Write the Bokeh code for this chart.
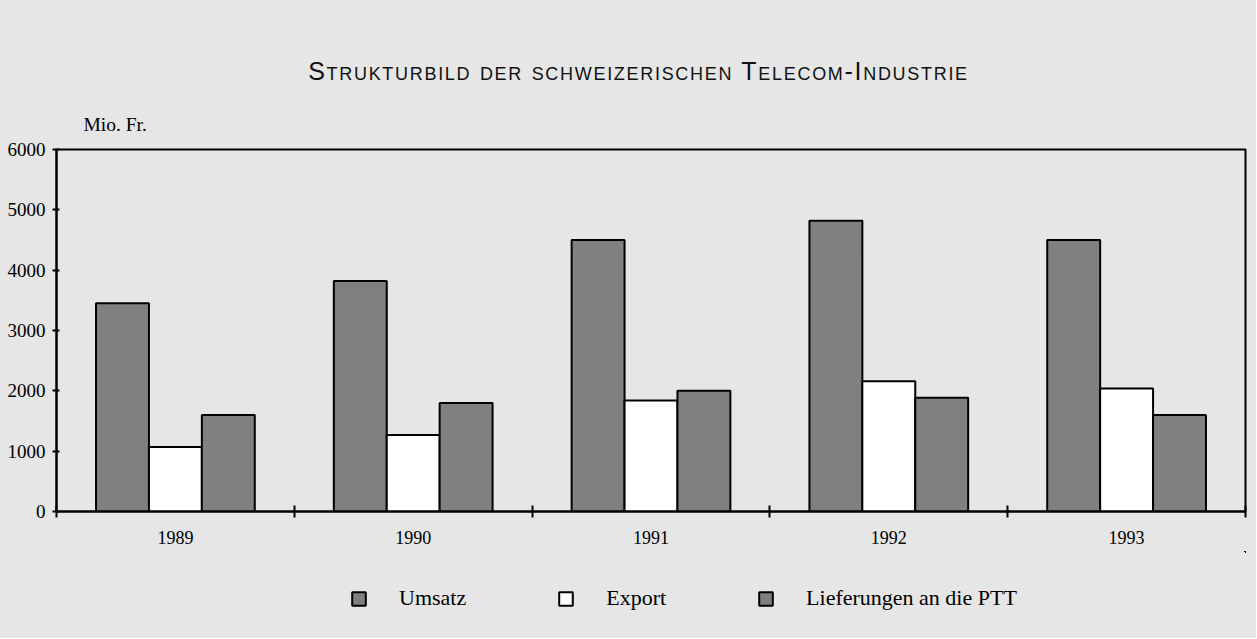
from bokeh.plotting import figure
from bokeh.models import ColumnDataSource, FixedTicker, Legend, LegendItem, Div, Range1d, Title
from bokeh.layouts import column
from bokeh.embed import file_html
from bokeh.resources import INLINE

# ---- data ----
years = ["1989", "1990", "1991", "1992", "1993"]
umsatz = [3450, 3820, 4500, 4820, 4500]
export = [1070, 1270, 1840, 2160, 2040]
lieferungen_ptt = [1600, 1800, 2000, 1885, 1600]
series_names = ["Umsatz", "Export", "Lieferungen an die PTT"]
y_ticks = [0, 1000, 2000, 3000, 4000, 5000, 6000]
title_text = "Strukturbild der schweizerischen Telecom-Industrie"
unit_text = "Mio. Fr."

# ---- style ----
BG = "#e6e6e6"
BAR_GRAY = "#808080"
BAR_W = 0.2225
SERIF = "Liberation Serif"
W = 1256

title_div = Div(
    text=('<div style="font-family:\'Liberation Sans\';'
          'font-size:25px;letter-spacing:1.7px;font-variant:small-caps;text-align:center;'
          'width:1216px;padding-left:61px;padding-top:54px;color:#111;">'
          + title_text + '</div>'),
    width=W, height=93,
    styles={"background-color": BG, "margin": "0", "padding": "0"},
)

p = figure(
    width=W, height=458,
    x_range=Range1d(0, len(years)), y_range=Range1d(0, 6000),
    output_backend="svg", toolbar_location=None,
    min_border_left=56, min_border_right=11, min_border_top=56, min_border_bottom=40,
    background_fill_color=BG, border_fill_color=BG,
)
p.xgrid.visible = False
p.ygrid.visible = False
p.outline_line_color = "black"
p.outline_line_width = 2

series = [(series_names[0], umsatz, BAR_GRAY),
          (series_names[1], export, "white"),
          (series_names[2], lieferungen_ptt, BAR_GRAY)]
sources = []
for j, (name, vals, color) in enumerate(series):
    src = ColumnDataSource(dict(
        x=[i + 0.5 + (j - 1) * BAR_W for i in range(len(years))],
        top=vals,
    ))
    sources.append(src)
    p.vbar(x="x", top="top", width=BAR_W, bottom=0, source=src,
           fill_color=color, line_color="black", line_width=2)

# x axis: labels centred on groups, tick marks at group boundaries
p.xaxis.ticker = FixedTicker(ticks=[i + 0.5 for i in range(len(years))],
                             minor_ticks=list(range(len(years) + 1)))
p.xaxis.major_label_overrides = {i + 0.5: y for i, y in enumerate(years)}
p.xaxis.major_tick_in = 0
p.xaxis.major_tick_out = 0
p.xaxis.minor_tick_in = 6
p.xaxis.minor_tick_out = 6
p.xaxis.minor_tick_line_width = 2
p.xaxis.minor_tick_line_color = "black"
p.xaxis.major_label_standoff = 13
p.xaxis.major_label_text_font = SERIF
p.xaxis.major_label_text_font_size = "18px"
p.xaxis.major_label_text_color = "black"
p.xaxis.axis_line_width = 2
p.xaxis.axis_line_color = "black"

p.yaxis.ticker = FixedTicker(ticks=y_ticks)
p.yaxis.minor_tick_line_color = None
p.yaxis.major_tick_in = 3
p.yaxis.major_tick_out = 4
p.yaxis.major_tick_line_width = 2
p.yaxis.major_tick_line_color = "black"
p.yaxis.major_label_standoff = 7
p.yaxis.major_label_text_font = SERIF
p.yaxis.major_label_text_font_size = "19px"
p.yaxis.major_label_text_color = "black"
p.yaxis.axis_line_width = 2
p.yaxis.axis_line_color = "black"

unit_title = Title(text=unit_text, align="left", offset=27, standoff=30,
                   text_font=SERIF, text_font_size="19.5px",
                   text_font_style="normal", text_color="black")
p.add_layout(unit_title, "above")

# ---- legend strip (separate figure below the chart) ----
# the same bar sources are reused; the strip's ranges lie away from them, so only
# the legend swatches are visible
lg = figure(
    width=W, height=87, x_range=Range1d(-20, -10), y_range=Range1d(-2, -1),
    x_axis_type=None, y_axis_type=None,
    output_backend="svg", toolbar_location=None,
    min_border=0, background_fill_color=BG, border_fill_color=BG,
)
lg.xgrid.visible = False
lg.ygrid.visible = False
lg.outline_line_color = None
items = []
for (name, vals, color), src in zip(series, sources):
    r = lg.vbar(x="x", top="top", width=BAR_W, bottom=0, source=src,
                fill_color=color, line_color="black", line_width=2)
    items.append(LegendItem(label=name, renderers=[r]))
legend = Legend(items=items, orientation="horizontal", location=(294, 27),
                spacing=91, label_standoff=32, glyph_width=17, glyph_height=17,
                padding=0, margin=0, border_line_color=None,
                background_fill_alpha=0,
                label_text_font=SERIF, label_text_font_size="22px",
                label_text_color="black")
lg.add_layout(legend, "center")

layout = column(title_div, p, lg, spacing=0, styles={"background-color": BG})
open("out.html", "w").write(file_html(layout, INLINE))
